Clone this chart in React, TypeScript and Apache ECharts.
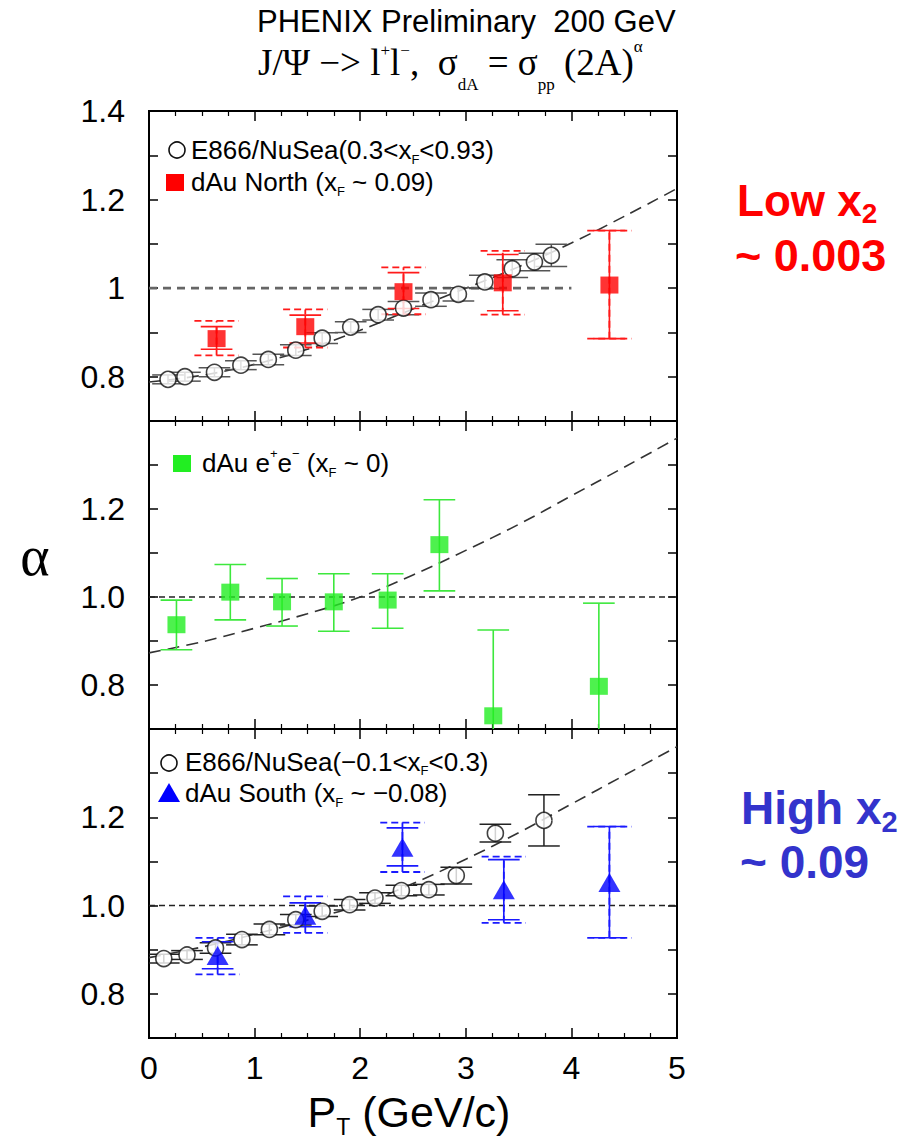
import React, { useEffect, useRef } from 'react';
import * as echarts from 'echarts';

// ---------- data ----------
const xTickLabels = ['0', '1', '2', '3', '4', '5'];
const topYTickValues = [0.8, 1.0, 1.2, 1.4];
const topYTickText = ['0.8', '1', '1.2', '1.4'];
const otherYTickValues = [0.8, 1.0, 1.2];
const otherYTickText = ['0.8', '1.0', '1.2'];

// top panel: E866/NuSea (0.3<xF<0.93)
const e866TopX = [0.18, 0.34, 0.62, 0.87, 1.13, 1.39, 1.64, 1.91, 2.17, 2.41, 2.67, 2.93, 3.18, 3.44, 3.65, 3.81];
const e866TopY = [0.794, 0.8, 0.81, 0.826, 0.839, 0.86, 0.887, 0.912, 0.94, 0.955, 0.974, 0.986, 1.014, 1.044, 1.059, 1.074];
const e866TopErr = [0.01, 0.01, 0.01, 0.01, 0.012, 0.012, 0.012, 0.012, 0.012, 0.015, 0.015, 0.015, 0.015, 0.02, 0.02, 0.025];

// top panel: dAu North
const northX = [0.64, 1.48, 2.41, 3.35, 4.36];
const northY = [0.886, 0.913, 0.992, 1.012, 1.007];
const northStatLo = [0.862, 0.876, 0.954, 0.949, 0.886];
const northStatHi = [0.913, 0.939, 1.035, 1.076, 1.13];
const northSysLo = [0.848, 0.866, 0.941, 0.94, 0.886];
const northSysHi = [0.926, 0.952, 1.047, 1.084, 1.13];

// middle panel: dAu e+e-
const eeX = [0.26, 0.77, 1.26, 1.75, 2.26, 2.75, 3.26, 4.26];
const eeY = [0.937, 1.011, 0.989, 0.989, 0.993, 1.119, 0.73, 0.797];
const eeLo = [0.88, 0.948, 0.934, 0.922, 0.929, 1.014, 0.53, 0.6];
const eeHi = [0.993, 1.074, 1.042, 1.053, 1.053, 1.221, 0.925, 0.986];

// bottom panel: E866/NuSea (-0.1<xF<0.3)
const e866BotX = [0.14, 0.36, 0.63, 0.88, 1.14, 1.39, 1.64, 1.9, 2.14, 2.39, 2.65, 2.91, 3.28, 3.74];
const e866BotY = [0.88, 0.888, 0.904, 0.923, 0.946, 0.968, 0.987, 1.002, 1.017, 1.034, 1.036, 1.068, 1.164, 1.193];
const e866BotErr = [0.01, 0.01, 0.012, 0.012, 0.012, 0.012, 0.012, 0.012, 0.012, 0.012, 0.012, 0.019, 0.02, 0.058];

// bottom panel: dAu South
const southX = [0.65, 1.48, 2.4, 3.36, 4.36];
const southY = [0.887, 0.978, 1.132, 1.036, 1.052];
const southStatLo = [0.857, 0.952, 1.09, 0.968, 0.927];
const southStatHi = [0.918, 1.006, 1.176, 1.104, 1.179];
const southSysLo = [0.844, 0.938, 1.076, 0.961, 0.927];
const southSysHi = [0.927, 1.021, 1.188, 1.111, 1.179];

// fit curves
const fitX = [0, 0.5, 1, 1.5, 2, 2.5, 3, 3.5, 4, 4.5, 5];
const fitTop = [0.788, 0.803, 0.828, 0.862, 0.905, 0.953, 1.0, 1.048, 1.102, 1.162, 1.225];
const fitMid = [0.873, 0.898, 0.929, 0.962, 1.0, 1.05, 1.106, 1.165, 1.23, 1.295, 1.361];
const fitBot = [0.882, 0.906, 0.935, 0.967, 1.002, 1.05, 1.105, 1.165, 1.23, 1.295, 1.36];

// reference lines at alpha = 1
const refTop = [[0, 1], [4, 1]];
const refFull = [[0, 1], [5, 1]];

// ---------- helpers ----------
const SANS = 'Liberation Sans, Arial, Helvetica, sans-serif';
const SERIF = 'Liberation Serif, Times New Roman, serif';

const pairs = (xs: number[], ys: number[]) => xs.map((x, i) => [x, ys[i]]);
const bars = (xs: number[], lo: number[], hi: number[]) => xs.map((x, i) => [x, lo[i], hi[i]]);
const symBars = (xs: number[], ys: number[], e: number[]) => xs.map((x, i) => [x, ys[i] - e[i], ys[i] + e[i]]);

function errRender(halfW: number, color: string, lw: number, dash: number[] | null) {
  return (params: any, api: any) => {
    const x = api.value(0);
    const pLo = api.coord([x, api.value(1)]);
    const pHi = api.coord([x, api.value(2)]);
    const w = api.size([halfW, 0])[0];
    const style: any = { stroke: color, lineWidth: lw, fill: null };
    if (dash) style.lineDash = dash;
    return {
      type: 'group',
      children: [
        { type: 'line', shape: { x1: pLo[0], y1: pLo[1], x2: pHi[0], y2: pHi[1] }, style },
        { type: 'line', shape: { x1: pLo[0] - w, y1: pLo[1], x2: pLo[0] + w, y2: pLo[1] }, style },
        { type: 'line', shape: { x1: pHi[0] - w, y1: pHi[1], x2: pHi[0] + w, y2: pHi[1] }, style },
      ],
    };
  };
}

function xAx(grid: number, pos: string, showLabel: boolean) {
  return {
    type: 'value', gridIndex: grid, position: pos, min: 0, max: 5, interval: 1,
    axisLine: { show: false, onZero: false },
    axisTick: { show: true, inside: true, length: 10, lineStyle: { color: '#000', width: 1.5 } },
    minorTick: { show: true, splitNumber: 4, length: 5, lineStyle: { color: '#000', width: 1.2 } },
    splitLine: { show: false },
    minorSplitLine: { show: false },
    axisLabel: {
      show: showLabel, fontSize: 32, color: '#000', fontFamily: SANS, margin: 14,
      formatter: (v: number) => xTickLabels[Math.round(v)] ?? '',
    },
  };
}

function yAx(grid: number, pos: string, vals: number[] | null, texts: string[] | null) {
  return {
    type: 'value', gridIndex: grid, position: pos, min: 0.7, max: 1.4, interval: 0.1,
    axisLine: { show: false, onZero: false },
    axisTick: { show: true, inside: true, length: 9, lineStyle: { color: '#000', width: 1.5 } },
    splitLine: { show: false },
    axisLabel: {
      show: !!vals, showMinLabel: true, showMaxLabel: true, fontSize: 32, color: '#000',
      fontFamily: SANS, margin: 24,
      formatter: (v: number) => {
        if (!vals || !texts) return '';
        const i = vals.findIndex((t) => Math.abs(t - v) < 1e-6);
        return i >= 0 ? texts[i] : '';
      },
    },
  };
}

function mkRich(fs: number, family: string, color: string, weight: string, small: number, offs: Record<string, number>) {
  const P = 40;
  const c = P + fs / 2;
  const rich: any = {
    m: { fontSize: fs, fontFamily: family, fill: color, fontWeight: weight, lineHeight: fs + 2, padding: [P, 0, 0, 0], verticalAlign: 'top' },
  };
  for (const k of Object.keys(offs)) {
    rich[k] = {
      fontSize: small, fontFamily: family, fill: color, fontWeight: weight, lineHeight: small,
      padding: [c + offs[k] - small / 2, 0, 0, 0], verticalAlign: 'top',
    };
  }
  return { rich, c };
}

function richText(text: string, x: number, cy: number, align: string, fs: number, family: string, color: string, weight: string, small: number, offs: Record<string, number>) {
  const { rich, c } = mkRich(fs, family, color, weight, small, offs);
  return {
    type: 'text', x, y: cy - c, silent: true,
    style: { text, rich, align, verticalAlign: 'top', textAlign: align, textVerticalAlign: 'top', fill: color },
  };
}

export default function App() {
  const ref = useRef<HTMLDivElement>(null);
  useEffect(() => {
    document.body.style.margin = '0';
    const chart = echarts.init(ref.current!, null, { renderer: 'svg' });
    const gridBase = { left: 149, width: 528, show: true, borderColor: '#000', borderWidth: 2, backgroundColor: 'transparent', outerBoundsMode: 'none' };

    const fitStyle = { color: '#333', width: 1.6, type: [12, 7] };
    const refStyleTop = { color: '#666', width: 2.6, type: [8, 6] };
    const refStyle = { color: '#222', width: 1.5, type: [6, 4] };

    const series: any[] = [];
    const addPanel = (g: number, refData: number[][], refSt: any, fit: number[]) => {
      series.push({ type: 'line', xAxisIndex: 2 * g, yAxisIndex: 2 * g, data: refData, symbol: 'none', lineStyle: refSt, z: 1, silent: true });
      series.push({ type: 'line', xAxisIndex: 2 * g, yAxisIndex: 2 * g, data: pairs(fitX, fit), symbol: 'none', smooth: 0.4, lineStyle: fitStyle, z: 2, silent: true });
    };
    addPanel(0, refTop, refStyleTop, fitTop);
    addPanel(1, refFull, refStyle, fitMid);
    addPanel(2, refFull, refStyle, fitBot);

    const custom = (g: number, data: number[][], halfW: number, color: string, lw: number, dash: number[] | null, z: number) => ({
      type: 'custom', xAxisIndex: 2 * g, yAxisIndex: 2 * g, data, clip: true, z, silent: true,
      encode: { x: 0, y: [1, 2] },
      renderItem: errRender(halfW, color, lw, dash),
    });

    // top panel
    series.push(custom(0, symBars(e866TopX, e866TopY, e866TopErr), 0.15, '#555', 1.5, null, 3));
    series.push(custom(0, bars(northX, northSysLo, northSysHi), 0.21, '#ff1a1a', 1.8, [7, 4], 3));
    series.push(custom(0, bars(northX, northStatLo, northStatHi), 0.15, '#ff1a1a', 1.6, null, 3));
    series.push({ type: 'scatter', xAxisIndex: 0, yAxisIndex: 0, data: pairs(e866TopX, e866TopY), symbol: 'circle', symbolSize: 16, itemStyle: { color: '#fff', borderColor: '#111', borderWidth: 1.6 }, z: 4 });
    series.push({ type: 'scatter', xAxisIndex: 0, yAxisIndex: 0, data: pairs(northX, northY), symbol: 'rect', symbolSize: [18, 17], itemStyle: { color: '#ff0000' }, z: 5 });

    // middle panel
    series.push(custom(1, bars(eeX, eeLo, eeHi), 0.15, '#3de83d', 1.6, null, 3));
    series.push({ type: 'scatter', xAxisIndex: 2, yAxisIndex: 2, data: pairs(eeX, eeY), symbol: 'rect', symbolSize: [18, 17], itemStyle: { color: '#22ee22' }, z: 5, clip: false });

    // bottom panel
    series.push(custom(2, symBars(e866BotX, e866BotY, e866BotErr), 0.15, '#222', 1.5, null, 3));
    series.push(custom(2, bars(southX, southSysLo, southSysHi), 0.21, '#1a1aff', 1.8, [7, 4], 3));
    series.push(custom(2, bars(southX, southStatLo, southStatHi), 0.15, '#1a1aff', 1.6, null, 3));
    series.push({ type: 'scatter', xAxisIndex: 4, yAxisIndex: 4, data: pairs(e866BotX, e866BotY), symbol: 'circle', symbolSize: 16, itemStyle: { color: '#fff', borderColor: '#111', borderWidth: 1.6 }, z: 4 });
    series.push({ type: 'scatter', xAxisIndex: 4, yAxisIndex: 4, data: pairs(southX, southY), symbol: 'triangle', symbolSize: [22, 19], itemStyle: { color: '#0000ff' }, z: 5 });

    const graphic: any[] = [
      { type: 'text', x: 257, y: 21, silent: true, style: { text: 'PHENIX Preliminary  200 GeV', font: `31px ${SANS}`, fill: '#000', align: 'left', verticalAlign: 'middle', textAlign: 'left', textVerticalAlign: 'middle' } },
      richText('{m|J/Ψ −> l}{p|+}{m|l}{p|−}{m|,  σ}{b|dA}{m| = σ}{b|pp}{m| (2A)}{a|α}', 258, 62, 'left', 37, SERIF, '#000', 'normal', 17, { p: -12, b: 22, a: -16 }),
      { type: 'text', x: 35, y: 556, silent: true, style: { text: 'α', font: `56px ${SERIF}`, fill: '#000', align: 'center', verticalAlign: 'middle', textAlign: 'center', textVerticalAlign: 'middle' } },
      richText('{m|P}{b|T}{m| (GeV/c)}', 409, 1112, 'center', 43, SANS, '#000', 'normal', 23, { b: 15 }),
      // right-side annotations
      richText('{m|Low x}{b|2}', 737, 200, 'left', 44, SANS, '#ff0000', 'bold', 28, { b: 13 }),
      richText('{m|~ 0.003}', 735, 255, 'left', 45, SANS, '#ff0000', 'bold', 28, {}),
      richText('{m|High x}{b|2}', 741, 808, 'left', 46, SANS, '#3333cc', 'bold', 29, { b: 14 }),
      richText('{m|~ 0.09}', 740, 862, 'left', 46, SANS, '#3333cc', 'bold', 28, {}),
      // legends
      { type: 'circle', shape: { cx: 177, cy: 150, r: 8 }, style: { fill: '#fff', stroke: '#111', lineWidth: 1.6 }, silent: true },
      richText('{m|E866/NuSea(0.3<x}{b|F}{m|<0.93)}', 191, 150, 'left', 26, SANS, '#000', 'normal', 13, { b: 9 }),
      { type: 'rect', shape: { x: 166, y: 174, width: 18, height: 17 }, style: { fill: '#ff0000' }, silent: true },
      richText('{m|dAu North (x}{b|F}{m| ~ 0.09)}', 191, 182, 'left', 26, SANS, '#000', 'normal', 13, { b: 9 }),
      { type: 'rect', shape: { x: 173, y: 455, width: 18, height: 17 }, style: { fill: '#22ee22' }, silent: true },
      richText('{m|dAu e}{p|+}{m|e}{p|−}{m| (x}{b|F}{m| ~ 0)}', 202, 463, 'left', 26, SANS, '#000', 'normal', 13, { b: 9, p: -10 }),
      { type: 'circle', shape: { cx: 169, cy: 763, r: 8 }, style: { fill: '#fff', stroke: '#111', lineWidth: 1.6 }, silent: true },
      richText('{m|E866/NuSea(−0.1<x}{b|F}{m|<0.3)}', 185, 762, 'left', 26, SANS, '#000', 'normal', 13, { b: 8 }),
      { type: 'polygon', shape: { points: [[169, 783], [180, 802], [158, 802]] }, style: { fill: '#0000ff' }, silent: true },
      richText('{m|dAu South (x}{b|F}{m| ~ −0.08)}', 185, 793, 'left', 26, SANS, '#000', 'normal', 13, { b: 9 }),
    ];

    chart.setOption({
      animation: false,
      backgroundColor: '#fff',
      grid: [
        { ...gridBase, top: 111, height: 310 },
        { ...gridBase, top: 421, height: 308 },
        { ...gridBase, top: 729, height: 309 },
      ],
      xAxis: [
        xAx(0, 'bottom', false), xAx(0, 'top', false),
        xAx(1, 'bottom', false), xAx(1, 'top', false),
        xAx(2, 'bottom', true), xAx(2, 'top', false),
      ],
      yAxis: [
        yAx(0, 'left', topYTickValues, topYTickText), yAx(0, 'right', null, null),
        yAx(1, 'left', otherYTickValues, otherYTickText), yAx(1, 'right', null, null),
        yAx(2, 'left', otherYTickValues, otherYTickText), yAx(2, 'right', null, null),
      ],
      series,
      graphic,
    });
    return () => chart.dispose();
  }, []);
  return <div ref={ref} style={{ width: 909, height: 1139 }} />;
}
